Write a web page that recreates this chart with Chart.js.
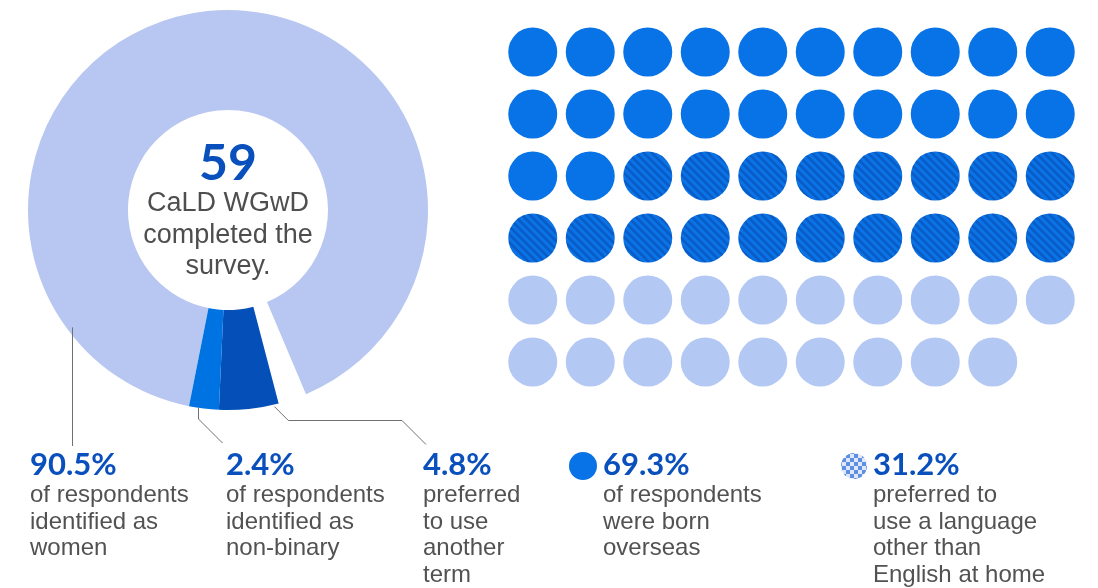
<!DOCTYPE html>
<html>
<head>
<meta charset="utf-8">
<script src="https://cdn.jsdelivr.net/npm/chart.js@4.4.1/dist/chart.umd.min.js"></script>
<style>
    body { margin: 0; background: #fff; width: 1098px; height: 588px; overflow: hidden; position: relative;
           font-family: "Liberation Sans", Arial, sans-serif; color: #525252; }
    #donut { position: absolute; left: 0; top: 0; }
    #dots { position: absolute; left: 504px; top: 21px; filter: blur(0.6px); }
    .big { font-family: Lato, sans-serif; font-weight: 700; color: #0a50bd; }
    #total { position: absolute; left: 128px; width: 200px; top: 136px; text-align: center; font-size: 50px; line-height: 50px; }
    #caption { position: absolute; left: 108px; width: 240px; top: 187px; text-align: center; font-size: 27px; line-height: 31.5px; color: #4e4e4e; }
    .stat { position: absolute; top: 447px; font-size: 24px; line-height: 26.5px; white-space: nowrap; }
    .stat .big { display: block; font-size: 31px; line-height: 32px; margin-bottom: 2px; }
    .key { position: absolute; border-radius: 50%; }
    #keyBorn { left: 569px; top: 452px; width: 28px; height: 28px; background: #0873e6; filter: blur(0.7px); }
    #keyLang { left: 841px; top: 453px; width: 26px; height: 26px; filter: blur(0.4px);
               background: repeating-conic-gradient(#5e8fe2 0 25%, #dfe7f8 0 50%) 1px 1px / 8px 8px; }
</style>
</head>
<body>
<canvas id="donut" width="1098" height="588"></canvas>
<canvas id="dots" width="575" height="372"></canvas>

<div id="total" class="big"></div>
<div id="caption">CaLD WGwD<br>completed the<br>survey.</div>

<div class="stat" style="left:30px"><span class="big" id="pWomen"></span>of respondents<br>identified as<br>women</div>
<div class="stat" style="left:226px"><span class="big" id="pNonBinary"></span>of respondents<br>identified as<br>non-binary</div>
<div class="stat" style="left:423px"><span class="big" id="pOther"></span>preferred<br>to use<br>another<br>term</div>
<div class="key" id="keyBorn"></div>
<div class="stat" style="left:603px"><span class="big" id="pBorn"></span>of respondents<br>were born<br>overseas</div>
<div class="key" id="keyLang"></div>
<div class="stat" style="left:873px"><span class="big" id="pLang"></span>preferred to<br>use a language<br>other than<br>English at home</div>

<script>
// gender split (percent of respondents)
var genderLabels = ["Women", "Non-binary", "Another term"];
var genderShares = [90.5, 2.4, 4.8];

// one dot per respondent, filled row by row
var dotGroups = ["Born overseas", "Born overseas, other language at home", "Born in Australia"];
var dotCounts = [22, 18, 19];
var gridColumns = 10;

// headline percentages next to the dot grid
var bornOverseasPct = 69.3;
var otherLanguagePct = 31.2;

var lightBlue = "#b8c7f1";
var brightBlue = "#0073e3";
var darkBlue = "#0550b8";

// fill the text from the data
document.getElementById("total").textContent = dotCounts.reduce(function (a, b) { return a + b }, 0);
document.getElementById("pWomen").textContent = genderShares[0] + "%";
document.getElementById("pNonBinary").textContent = genderShares[1] + "%";
document.getElementById("pOther").textContent = genderShares[2] + "%";
document.getElementById("pBorn").textContent = bornOverseasPct + "%";
document.getElementById("pLang").textContent = otherLanguagePct + "%";

// ring order clockwise: women, blank gap, another term, non-binary
var unaccounted = 100 - genderShares.reduce(function (a, b) { return a + b }, 0);
var ringData = [genderShares[0], unaccounted, genderShares[2], genderShares[1]];
var ringColors = [lightBlue, "rgba(0,0,0,0)", darkBlue, brightBlue];

// thin grey lines from the ring down to the labels
var leaderLines = {
    id: "leaderLines",
    afterDatasetsDraw: function (chart) {
        var arcs = chart.getDatasetMeta(0).data
        var ctx = chart.ctx
        function at(arc, angle, r) {
            return { x: arc.x + Math.cos(angle) * r, y: arc.y + Math.sin(angle) * r }
        }
        var women = arcs[0], other = arcs[2], nonBinary = arcs[3]
        var toRad = Math.PI / 180

        ctx.save()
        ctx.strokeStyle = "#707070"
        ctx.lineWidth = 1

        var p = at(women, 143 * toRad, women.outerRadius - 5)
        ctx.beginPath()
        ctx.moveTo(Math.round(p.x) + 0.5, p.y)
        ctx.lineTo(Math.round(p.x) + 0.5, 446)
        ctx.stroke()

        var a = nonBinary.startAngle + 0.7 * (nonBinary.endAngle - nonBinary.startAngle)
        p = at(nonBinary, a, nonBinary.outerRadius)
        var x = Math.round(p.x) + 0.5
        ctx.beginPath()
        ctx.moveTo(x, p.y)
        ctx.lineTo(x, 419)
        ctx.lineTo(x + 24, 443)
        ctx.stroke()

        a = other.startAngle + 0.08 * (other.endAngle - other.startAngle)
        p = at(other, a, other.outerRadius + 2)
        ctx.beginPath()
        ctx.moveTo(p.x, p.y)
        ctx.lineTo(p.x + 420.5 - p.y, 420.5)
        ctx.lineTo(402, 420.5)
        ctx.lineTo(426, 444.5)
        ctx.stroke()
        ctx.restore()
    }
}

new Chart(document.getElementById("donut"), {
    type: "doughnut",
    data: {
        labels: [genderLabels[0], "", genderLabels[2], genderLabels[1]],
        datasets: [{
            data: ringData,
            backgroundColor: ringColors,
            borderWidth: 0,
            hoverOffset: 0
        }]
    },
    options: {
        responsive: false,
        animation: false,
        rotation: 191.25,
        radius: 200,
        cutout: 100,
        layout: { padding: { left: 28, top: 10, right: 670, bottom: 178 } },
        events: [],
        plugins: { legend: { display: false }, tooltip: { enabled: false } }
    },
    plugins: [leaderLines]
})

// diagonal stripes for the "other language" dots
function stripes() {
    var s = 8
    var c = document.createElement("canvas")
    c.width = s; c.height = s
    var g = c.getContext("2d")
    g.fillStyle = "#0a74e6"
    g.fillRect(0, 0, s, s)
    g.strokeStyle = "#0a5bc6"
    g.lineWidth = 2.6
    for (var k = -1; k <= 1; k++) {
        g.beginPath()
        g.moveTo(-1, k * s - 1)
        g.lineTo(s + 1, s + k * s + 1)
        g.stroke()
    }
    return g.createPattern(c, "repeat")
}

var dotFills = ["#0873e6", stripes(), "#b4c8f4"];
var points = [], fills = [];
var n = 0;
dotCounts.forEach(function (count, group) {
    for (var i = 0; i < count; i++) {
        points.push({ x: n % gridColumns, y: Math.floor(n / gridColumns) })
        fills.push(dotFills[group])
        n++
    }
})

new Chart(document.getElementById("dots"), {
    type: "scatter",
    data: {
        datasets: [{
            label: "Respondents",
            data: points,
            backgroundColor: fills,
            borderWidth: 0,
            pointRadius: 24.5,
            pointHoverRadius: 24.5,
            clip: false
        }]
    },
    options: {
        responsive: false,
        animation: false,
        events: [],
        layout: { padding: 0, autoPadding: false },
        scales: {
            x: { type: "linear", min: -0.5, max: gridColumns - 0.5, display: false },
            y: { type: "linear", min: -0.5, max: 5.5, reverse: true, display: false }
        },
        plugins: { legend: { display: false }, tooltip: { enabled: false } }
    }
})
</script>
</body>
</html>
